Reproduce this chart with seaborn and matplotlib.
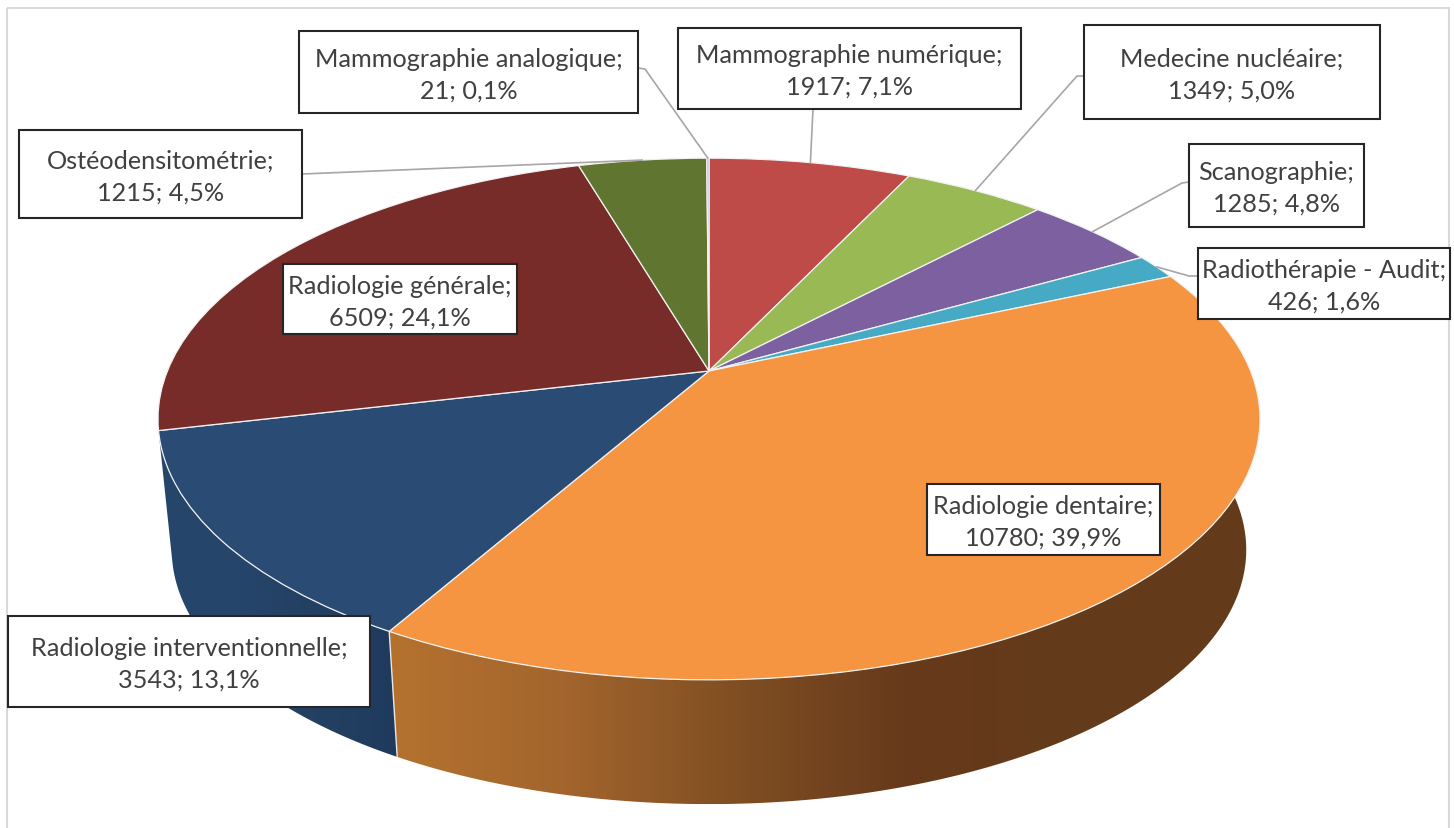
import numpy as np
import matplotlib
matplotlib.use('Agg')
import matplotlib.pyplot as plt
from matplotlib.colors import LinearSegmentedColormap
from matplotlib.patches import Polygon, Rectangle
from matplotlib.transforms import Transform
import seaborn as sns

# clockwise from 12 o'clock
categories = ['Mammographie numérique', 'Medecine nucléaire', 'Scanographie', 'Radiothérapie - Audit',
              'Radiologie dentaire', 'Radiologie interventionnelle', 'Radiologie générale',
              'Ostéodensitométrie', 'Mammographie analogique']
counts = [1917, 1349, 1285, 426, 10780, 3543, 6509, 1215, 21]
shares = ['7,1%', '5,0%', '4,8%', '1,6%', '39,9%', '13,1%', '24,1%', '4,5%', '0,1%']
colors = ['#BE4B48', '#98B954', '#7D60A0', '#46AAC4', '#F59441', '#2A4B73', '#772C2A', '#5F7530', '#9DB4DC']

# label boxes in pixels: x0, y0, x1, y1
boxes = [(678, 29, 1021, 110), (1084, 26, 1380, 120), (1189, 145, 1364, 228), (1198, 249, 1450, 320),
         (927, 485, 1160, 556), (8, 617, 370, 708), (283, 265, 517, 335), (19, 131, 302, 219), (299, 32, 638, 114)]
# where the leader line leaves the box, None means no leader
leaders = [[(813, 110)], [(1084, 77), (1077, 77)], [(1189, 183), (1182, 184)], [(1198, 277), (1189, 277)],
           None, None, None, [(302, 175)], [(638, 69), (645, 70)]]

# perspective of the pie disc
CX, CY = 709, 372
A, B, K = 541.6, 252.0, 0.184
WALL_SCALE, WALL_DROP = 0.975, 132


def project(x, y, scale=1.0, drop=0.0):
    v = -np.asarray(y)
    d = 1 - K * v
    return CX + scale * A * np.asarray(x) / d, CY + drop + scale * B * v / d


class PieProjection(Transform):
    input_dims = 2
    output_dims = 2

    def transform_non_affine(self, values):
        px, py = project(values[:, 0], values[:, 1])
        return np.column_stack([px, py])


def rim(theta1, theta2, scale=1.0, drop=0.0):
    t = np.radians(np.linspace(theta1, theta2, 200))
    return np.column_stack(project(np.cos(t), np.sin(t), scale, drop))


sns.set_theme(style='white')
plt.rcParams['font.family'] = ['Lato', 'DejaVu Sans']

fig = plt.figure(figsize=(14.54, 8.29), dpi=100)
ax = fig.add_axes([0, 0, 1, 1])

wedges, _ = ax.pie(counts, colors=sns.color_palette(colors), startangle=90, counterclock=False, radius=1,
                   wedgeprops={'transform': PieProjection() + ax.transData, 'edgecolor': '#F2F2F2',
                               'linewidth': 0.9, 'zorder': 3})
ax.set_aspect('auto')
ax.axis('off')

# side walls of the two front slices, horizontal gradient clipped to the wall shape
wall_shades = {4: ['#B5722F', '#A3652D', '#7F4E22', '#66391B', '#633B1A', '#633B1A'],
               5: ['#26456B', '#26456B', '#234062', '#1F3A5C']}
for idx, shade in wall_shades.items():
    # clockwise wedges have negative angles, the front half is -180..0
    t1, t2 = max(wedges[idx].theta1, -183), min(wedges[idx].theta2, 3)
    top = rim(t1, t2)
    bottom = rim(t1, t2, WALL_SCALE, WALL_DROP)
    outline = np.vstack([top, bottom[::-1]])
    poly = Polygon(outline, closed=True, facecolor='none', edgecolor='none', transform=ax.transData)
    ax.add_patch(poly)
    cmap = LinearSegmentedColormap.from_list(f'wall{idx}', shade)
    grad = np.linspace(0, 1, 256).reshape(1, -1)
    im = ax.imshow(grad, extent=(outline[:, 0].min(), outline[:, 0].max(), outline[:, 1].max(), outline[:, 1].min()),
                   aspect='auto', cmap=cmap, zorder=2)
    im.set_clip_path(poly)
    # pale seam up the front edge between the walls
    if idx == 4:
        ax.plot([top[0, 0], bottom[0, 0]], [top[0, 1], bottom[0, 1]], color='#E8E8E8', lw=1.0, zorder=2.5)

ax.set_xlim(0, 1454)
ax.set_ylim(829, 0)

# leader lines run to the middle of each slice rim
for idx, start in enumerate(leaders):
    if start is None:
        continue
    mid = np.radians((wedges[idx].theta1 + wedges[idx].theta2) / 2)
    end = project(np.cos(mid), np.sin(mid))
    pts = np.array(start + [end])
    ax.plot(pts[:, 0], pts[:, 1], color='#A6A6A6', lw=1.2, zorder=4)

for name, count, share, box in zip(categories, counts, shares, boxes):
    x0, y0, x1, y1 = box
    ax.add_patch(Rectangle((x0, y0), x1 - x0, y1 - y0, facecolor='white', edgecolor='#262626', lw=1.5,
                           zorder=5))
    ax.text((x0 + x1) / 2, (y0 + y1) / 2 + 2, f'{name};\n{count}; {share}', ha='center', va='center',
            color='#404040', fontsize=18.2, linespacing=1.43, zorder=6)

# chart area border
ax.add_patch(Rectangle((7, 9), 1442, 840, facecolor='none', edgecolor='#D9D9D9', lw=1.5, zorder=1))

fig.savefig('out.png', dpi=100)
